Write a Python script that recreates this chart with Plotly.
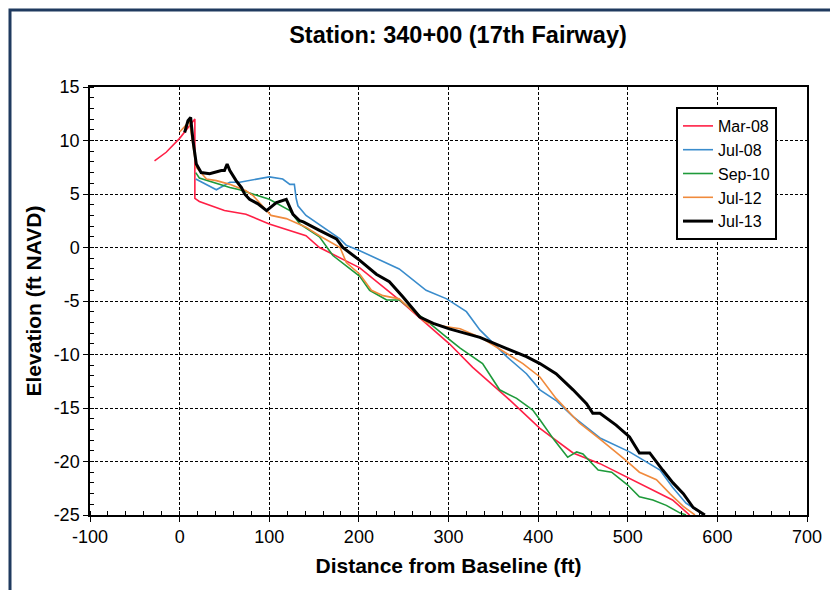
import plotly.graph_objects as go

# ---- data (distance ft, elevation ft NAVD) ----
mar08_x = [-28, -15, 0, 10, 17, 17, 22, 50, 74, 100, 141, 156, 201, 245, 279, 301, 327, 335, 365, 402, 439, 469, 500, 550, 569]
mar08_y = [8.1, 8.9, 10.2, 11.3, 12.0, 4.6, 4.3, 3.45, 3.1, 2.2, 1.1, 0.0, -1.9, -4.9, -7.4, -9.0, -11.2, -11.8, -14.0, -16.9, -19.2, -20.2, -21.5, -23.6, -25.0]

jul08_x = [18, 41, 56, 67, 100, 115, 123, 128, 130, 132, 141, 160, 179, 186, 201, 245, 275, 298, 320, 335, 365, 387, 402, 420, 439, 469, 502, 536, 550, 565, 585]
jul08_y = [6.4, 5.4, 6.1, 6.1, 6.6, 6.4, 5.9, 5.9, 4.6, 3.9, 3.0, 1.9, 0.8, 0.2, -0.3, -2.0, -4.0, -4.8, -6.0, -7.7, -10.2, -11.8, -13.3, -14.3, -15.8, -17.8, -19.1, -20.8, -22.4, -23.9, -25.0]

sep10_x = [18, 22, 56, 67, 100, 123, 134, 156, 171, 201, 212, 231, 245, 275, 298, 313, 338, 357, 376, 394, 402, 418, 433, 443, 450, 467, 482, 500, 513, 528, 543, 558, 565]
sep10_y = [7.0, 6.5, 5.6, 5.4, 4.5, 3.45, 2.2, 1.0, -0.75, -2.7, -4.0, -4.9, -4.9, -6.8, -8.4, -9.4, -10.85, -13.3, -14.1, -15.2, -16.1, -18.0, -19.6, -19.1, -19.3, -20.8, -21.0, -22.2, -23.3, -23.6, -24.1, -24.8, -25.0]

jul12_x = [0, 11, 18.5, 30, 41, 56, 74, 82, 102, 119, 141, 156, 179, 186, 201, 214, 227, 245, 257, 275, 298, 313, 338, 365, 383, 402, 420, 446, 469, 498, 513, 532, 547, 562, 575]
jul12_y = [10.8, 11.8, 7.5, 6.4, 6.25, 5.9, 5.3, 4.85, 3.0, 2.7, 1.9, 1.1, 0.0, -1.4, -2.5, -4.0, -4.5, -4.8, -5.7, -7.0, -7.4, -7.6, -8.5, -9.9, -10.85, -12.1, -14.1, -16.4, -17.9, -19.9, -21.0, -21.7, -23.0, -24.2, -25.0]

jul13_x = [5.6, 9.3, 12.3, 14.9, 18.6, 24, 33.5, 46.5, 50, 53, 56, 63, 69, 72.5, 78, 87, 97, 108, 119, 126.5, 134, 138, 156, 175, 182, 201, 219.5, 234, 249, 260, 268, 283, 301, 320, 335, 365, 387, 402, 420, 439, 454, 461, 469, 487, 502, 513, 524.5, 539, 550.5, 562, 573, 586]
jul13_y = [10.75, 11.85, 12.15, 10.0, 7.8, 7.0, 6.9, 7.2, 7.2, 7.8, 7.2, 6.25, 5.6, 5.0, 4.5, 4.1, 3.45, 4.2, 4.5, 3.1, 2.5, 2.4, 1.6, 0.8, 0.0, -1.2, -2.5, -3.2, -4.6, -5.7, -6.5, -7.1, -7.6, -8.05, -8.4, -9.45, -10.2, -10.85, -11.8, -13.3, -14.6, -15.5, -15.5, -16.6, -17.7, -19.2, -19.2, -20.8, -22.0, -23.0, -24.3, -25.0]

series = [
    ("Mar-08", mar08_x, mar08_y, "#ff1f45", 1.6),
    ("Jul-08", jul08_x, jul08_y, "#3a8ccc", 1.6),
    ("Sep-10", sep10_x, sep10_y, "#1e9a3a", 1.6),
    ("Jul-12", jul12_x, jul12_y, "#f08a3c", 1.6),
    ("Jul-13", jul13_x, jul13_y, "#000000", 3.0),
]

x_ticks = [-100, 0, 100, 200, 300, 400, 500, 600, 700]
y_ticks = [15, 10, 5, 0, -5, -10, -15, -20, -25]

fig = go.Figure()
for name, xs, ys, col, w in series:
    fig.add_trace(go.Scatter(x=xs, y=ys, mode="lines", name=name,
                             line=dict(color=col, width=w)))

OFF = 8                      # browser body margin
W, H = 838 - OFF, 590 - OFF  # figure size
PL, PR, PT, PB = 90, 807, 87, 515   # plot area in page pixels
L, R, T, B = PL - OFF, (OFF + W) - PR, PT - OFF, (OFF + H) - PB
pw, ph = PR - PL, PB - PT

def px_x(p):   # page pixel -> paper x
    return (p - PL) / pw

def px_y(p):   # page pixel -> paper y
    return (PB - p) / ph

FONT = "Liberation Sans, Arial"

axis_common = dict(
    showline=True, linecolor="black", linewidth=1.5, mirror=True,
    showgrid=True, gridcolor="black", gridwidth=1, griddash="3px,2px",
    zeroline=False, ticks="outside", ticklen=5, tickcolor="black",
    tickfont=dict(family=FONT, size=18, color="black"),
)

fig.update_xaxes(range=[-100, 700], tickvals=x_ticks, ticktext=[str(v) for v in x_ticks],
                 minor=dict(dtick=20, ticks="inside", ticklen=4, tickcolor="black", showgrid=False),
                 title=dict(text="<b>Distance from Baseline (ft)</b>", standoff=12,
                            font=dict(family=FONT, size=21, color="black")),
                 **axis_common)
fig.update_yaxes(range=[-25, 15], tickvals=y_ticks, ticktext=[str(v) for v in y_ticks],
                 minor=dict(dtick=1, ticks="inside", ticklen=4, tickcolor="black", showgrid=False),
                 title=dict(text="<b>Elevation (ft NAVD)</b>", standoff=6,
                            font=dict(family=FONT, size=21, color="black")),
                 **axis_common)

fig.update_layout(
    width=W, height=H,
    margin=dict(l=L, r=R, t=T, b=B),
    paper_bgcolor="white", plot_bgcolor="white",
    title=dict(text="<b>Station: 340+00 (17th Fairway)</b>",
               x=px_x(458), xref="paper", xanchor="center",
               y=1 - (35 - OFF) / H, yref="container", yanchor="middle",
               font=dict(family=FONT, size=23.5, color="black")),
    legend=dict(x=px_x(676), y=px_y(107), xanchor="left", yanchor="top",
                bgcolor="white", bordercolor="black", borderwidth=2,
                font=dict(family=FONT, size=16, color="black"),
                tracegroupgap=0, itemwidth=30),
    showlegend=True,
)

# outer navy frame
fig.add_shape(type="rect", xref="paper", yref="paper",
              x0=px_x(10), x1=px_x(834), y0=px_y(610), y1=px_y(10),
              line=dict(color="#1f3a5f", width=3), layer="below")

fig.write_html("out.html")
